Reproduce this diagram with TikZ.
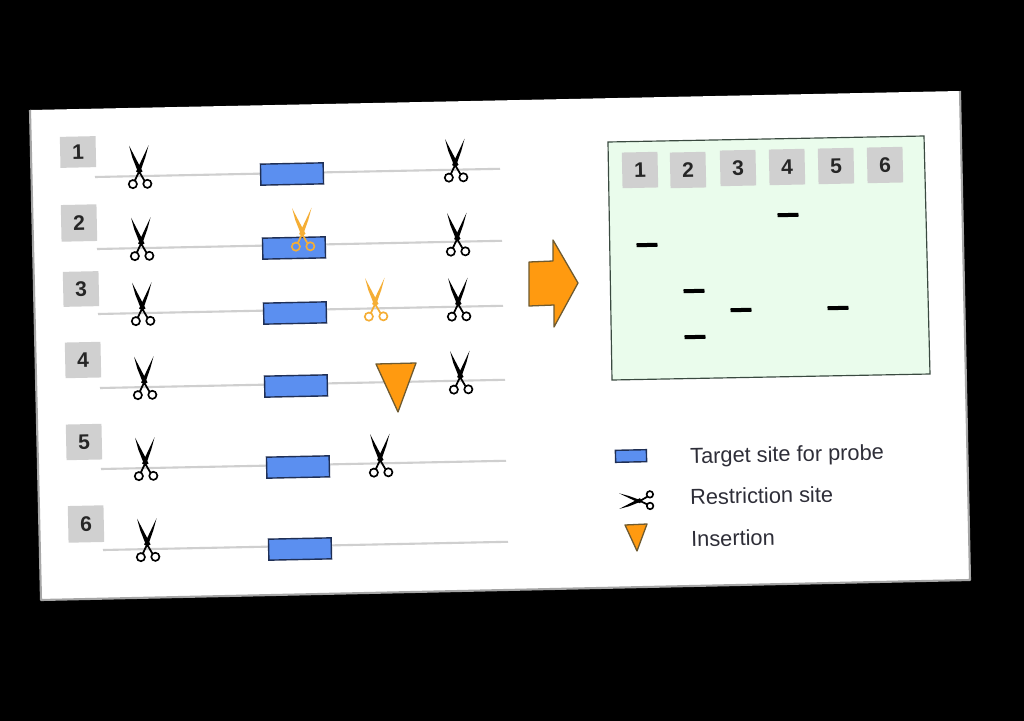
\documentclass[tikz,border=0pt]{standalone}
\usepackage{fontspec}
\setmainfont{Liberation Sans}
\usepackage{xcolor}
\usetikzlibrary{calc}
\definecolor{paperedge}{HTML}{A6A6A6}
\definecolor{labelgrey}{HTML}{D0D0D0}
\definecolor{dnagrey}{HTML}{CFCFCF}
\definecolor{targetblue}{HTML}{5B8FF0}
\definecolor{targetedge}{HTML}{1F2F55}
\definecolor{gelgreen}{HTML}{EAFCEC}
\definecolor{geledge}{HTML}{3A4A40}
\definecolor{insertorange}{HTML}{FF9A10}
\definecolor{insertedge}{HTML}{6E5A30}
\definecolor{cutorange}{HTML}{F5AE35}
\definecolor{textdark}{HTML}{2E2E38}
\tikzset{
  numbox/.style={fill=labelgrey, inner sep=0pt, minimum width=1.07cm, minimum height=1.07cm, rotate=1.2,
    font=\fontsize{18}{20}\selectfont\bfseries, text=black!85},
  dnaline/.style={draw=dnagrey, line width=1.8pt},
  targetbox/.style={fill=targetblue, draw=targetedge, line width=1.2pt, inner sep=0pt, minimum width=1.88cm, minimum height=0.63cm, rotate=1.2},
  band/.style={fill=black, inner sep=0pt, minimum width=0.63cm, minimum height=0.12cm, rounded corners=0.3pt, rotate=1.2},
  insertfill/.style={fill=insertorange, draw=insertedge, line width=1.1pt, line join=round},
  legendtext/.style={anchor=west, inner sep=0pt, rotate=1.2, text=textdark, font=\fontsize{18.6}{20}\selectfont},
  pics/scissors/.style={code={
    \fill[#1] (-9.5,-21) -- (3.5,5) -- (-0.5,7) -- (-6.5,-9) -- cycle;
    \fill[#1] (10,-21) -- (-3,5) -- (0.5,7) -- (6.5,-9) -- cycle;
    \draw[#1, line width=1.5pt] (0,5) -- (-4.5,14) (0,5) -- (5,14);
    \draw[#1, line width=1.4pt] (-6.5,17.5) circle (4.1) (8,17.5) circle (4.1);
  }}
}

\begin{document}
\begin{tikzpicture}[x=0.03cm, y=-0.03cm]
  \useasboundingbox (0,0) rectangle (1024,721);
  \fill[black] (0,0) rectangle (1024,721);
  \fill[white] (30,110) -- (960,91) -- (970,580) -- (41,600) -- cycle;
  \draw[paperedge, line width=1.8pt, line join=round] (30,110) -- (41,600) -- (970,580) -- (960,91);

  % rows on the left
  \foreach \row/\bx/\by/\bh/\lx/\ly/\rx/\ry in {1/78/152/0.93/95/177/292/174, 2/79/223/1.1/97/249/294/248, 3/81/289/1.05/98/314/295/313,
      4/83/360/1.07/100/388/296/386, 5/84/442/1.07/101/469/298/467, 6/86/524/1.1/103/550/300/549} {
    \node[numbox, minimum height=\bh cm] (num\row) at (\bx,\by) {\row};
    \coordinate (start\row) at (\lx,\ly);
    \coordinate (end\row) at ($(\lx,\ly)+(405,-8.2)$);
    \draw[dnaline] (start\row) -- (end\row);
    \node[targetbox] (target\row) at (\rx,\ry) {};
    \pic[rotate=1.2] at ($(\lx,\ly)+(44,-10.5)$) {scissors=black};
  }

  % other cuts
  \pic[rotate=1.2] at (455,160) {scissors=black};
  \pic[rotate=1.2] at (457,234) {scissors=black};
  \pic[rotate=1.2] at (458,299) {scissors=black};
  \pic[rotate=1.2] at (460,372) {scissors=black};
  \pic[rotate=1.2] at (380,455) {scissors=black};
  \pic[rotate=1.2] at (302,229) {scissors=cutorange};
  \pic[rotate=1.2] at (375,299) {scissors=cutorange};
  \draw[insertfill] (376,364) -- (416,363) -- (398,412) -- cycle;

  % big arrow
  \draw[insertfill] (529,262) -- (553,261) -- (553,240) -- (578,283) -- (554,327) -- (554,305) -- (529,306) -- cycle;

  % gel
  \draw[fill=gelgreen, draw=geledge, line width=1pt] (608,142) -- (924,136) -- (930,374) -- (612,380) -- cycle;
  \foreach \lane/\gx/\gy in {1/640/170, 2/688/170, 3/738/168, 4/787/167, 5/836/166, 6/885/165} {
    \node[numbox] (lane\lane) at (\gx,\gy) {\lane};
  }
  \node[band] (band1) at (647,245) {};
  \node[band] (band2a) at (694,291) {};
  \node[band] (band2b) at (695,337) {};
  \node[band] (band3) at (741,310) {};
  \node[band] (band4) at (788,215) {};
  \node[band] (band5) at (838,308) {};

  % legend
  \node[targetbox, minimum width=0.93cm, minimum height=0.36cm] (keytarget) at (631,456) {};
  \pic[rotate=91, scale=0.8] at (636,501) {scissors=black};
  \draw[insertfill] (625,525) -- (647,524) -- (637,551) -- cycle;
  \node[legendtext] (keytext1) at (690,458) {Target site for probe};
  \node[legendtext] (keytext2) at (690,497) {Restriction site};
  \node[legendtext] (keytext3) at (691,539) {Insertion};
\end{tikzpicture}
\end{document}
